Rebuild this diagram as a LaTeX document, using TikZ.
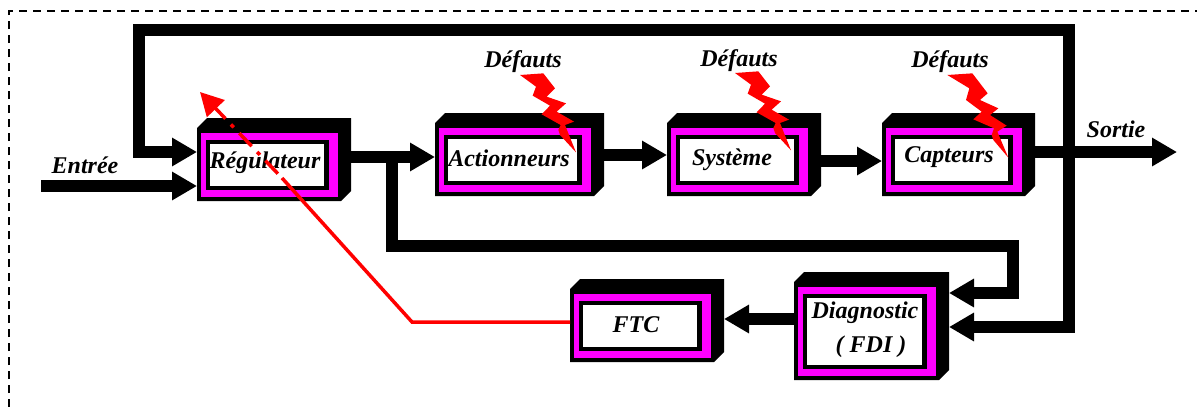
\documentclass[tikz,border=0pt]{standalone}
\usepackage{fontspec}
\setmainfont{Liberation Serif}
\usetikzlibrary{arrows.meta}
\definecolor{mag}{RGB}{255,0,255}
\tikzset{
  x=1pt,y=-1pt,
  frame/.style={rectangle,inner sep=0pt,outer sep=0pt,anchor=north west},
  lab/.style={anchor=base,inner sep=0pt,font=\fontsize{24}{26}\selectfont\bfseries\itshape},
  wire/.style={line width=11.5pt,line join=miter,black},
  flow/.style={wire,-{Triangle[length=25pt,width=27pt]}},
  redwire/.style={line width=3.5pt,red},
  border/.style={line width=2pt,dash pattern=on 8pt off 6pt},
  bolt/.style={fill=red,draw=none}
}
% name, x, y, width, height
\newcommand{\blk}[5]{%
  \node[frame,minimum width=#4pt,minimum height=#5pt] (#1) at (#2,#3) {};
  \begin{scope}[shift={(#2,#3)}]
    \fill[black] (0,10) -- (10,0) -- (#4,0) -- (#4,{#5-10}) -- ({#4-10},#5) -- (0,#5) -- cycle;
    \fill[mag] (4,15) rectangle ({#4-13.5},{#5-4.5});
    \fill[black] (8.5,22) rectangle ({#4-22.5},{#5-11});
    \fill[white] (12.5,26) rectangle ({#4-27},{#5-15.5});
  \end{scope}}
\newcommand{\boltA}{(30,30) -- (100,25) -- (135,70) -- (110,95) -- (168,115) -- (140,140) -- (192,170) -- (165,180) -- (198,262) -- (150,210) -- (145,195) -- (152,180) -- (95,148) -- (120,122) -- (68,92) -- (78,65) -- cycle}
\newcommand{\boltB}{(22,30) -- (97,25) -- (143,85) -- (120,105) -- (175,130) -- (150,150) -- (200,182) -- (172,200) -- (205,278) -- (160,225) -- (155,210) -- (162,190) -- (100,163) -- (125,140) -- (78,105) -- (88,70) -- cycle}
\begin{document}
\begin{tikzpicture}
\useasboundingbox (0,0) rectangle (1197,407);
\fill[white] (0,0) rectangle (1197,407);
\coordinate (bl) at (9,407);
\coordinate (tl) at (9,11);
\coordinate (tr) at (1197,11);
\draw[border] (bl) -- (tl) -- (tr);

\blk{reg}{197}{118}{154}{83}
\blk{act}{435}{113}{169}{83}
\blk{sys}{667}{113}{154}{83}
\blk{cap}{882}{113}{153}{83}
\blk{ftc}{570}{279}{154}{83}
\blk{fdi}{794}{272}{155}{108}

\coordinate (in) at (41,186);
\coordinate (out) at (1177,152);
\coordinate (branch) at (392,158);
\coordinate (tap) at (1069,152);

\draw[wire] (tap) -- (1069,30) -- (139,30) -- (139,152) -- (172,152);
\draw[flow] (139,152) -- (reg.west |- 0,152);
\draw[flow] (in) -- (reg.west |- 0,186);
\draw[flow] (reg.east |- 0,157) -- (act.west |- 0,157);
\draw[flow] (act.east |- 0,155) -- (sys.west |- 0,155);
\draw[flow] (sys.east |- 0,161) -- (cap.west |- 0,161);
\draw[flow] (cap.east |- 0,152) -- (out);
\draw[flow] (branch) -- (392,246) -- (1013,246) -- (1013,293) -- (fdi.east |- 0,293);
\draw[flow] (tap) -- (1069,327) -- (fdi.east |- 0,327);
\draw[flow] (fdi.west |- 0,319) -- (ftc.east |- 0,319);

\node[lab] (lin) at (85,173) {Entrée};
\node[lab] (lreg) at (265,168) {Régulateur};
\node[lab] (lact) at (509,166) {Actionneurs};
\node[lab] (lsys) at (732,165) {Système};
\node[lab] (lcap) at (949,162) {Capteurs};
\node[lab] (lftc) at (636,332) {FTC};
\node[lab] (lfdi) at (865,318) {Diagnostic};
\node[lab] (lfdib) at (871,352) {( FDI )};
\node[lab] (ld1) at (523,67) {Défauts};
\node[lab] (ld2) at (739,66) {Défauts};
\node[lab] (ld3) at (950,67) {Défauts};
\node[lab] (lout) at (1116,137) {Sortie};

% lightning bolts
\begin{scope}[shift={(510,65)},x=0.3333pt,y=-0.3333pt]
  \fill[bolt] \boltA;
\end{scope}
\begin{scope}[shift={(725,63)},x=0.3333pt,y=-0.3333pt]
  \fill[bolt] \boltA;
\end{scope}
\begin{scope}[shift={(940,65)},x=0.3333pt,y=-0.3333pt]
  \fill[bolt] \boltB;
\end{scope}

% red fault-tolerant path
\coordinate (bend) at (412,322);
\coordinate (mid) at (282,178);
\coordinate (tip) at (200,92);
\draw[redwire,line join=miter] (ftc.west |- 0,322) -- (bend) -- (mid);
\draw[redwire,dash pattern=on 18pt off 8pt on 4pt off 8pt,dash phase=32pt,-{Triangle[length=23pt,width=24pt]}] (mid) -- (tip);
\end{tikzpicture}
\end{document}
